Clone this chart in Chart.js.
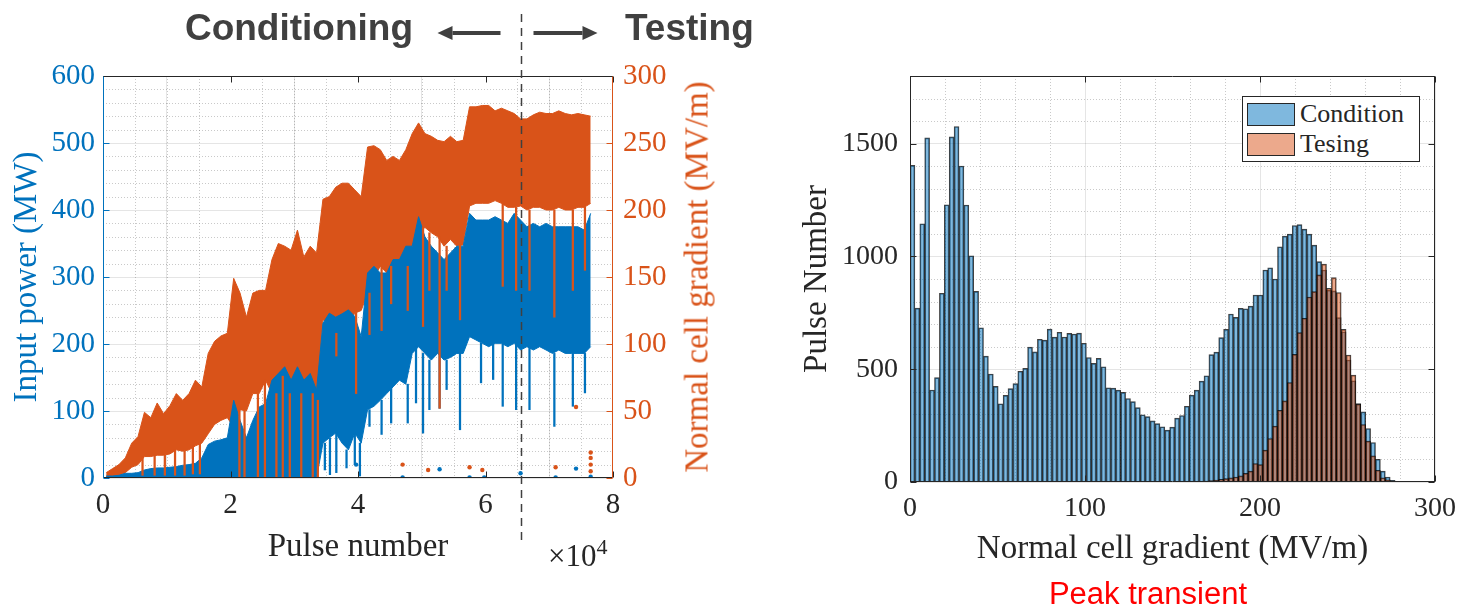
<!DOCTYPE html>
<html>
<head>
<meta charset="utf-8">
<script src="https://cdn.jsdelivr.net/npm/chart.js@4.4.1/dist/chart.umd.min.js"></script>
<style>
    html, body { margin: 0; padding: 0; background: #fff; }
    body { width: 1466px; height: 608px; position: relative; overflow: hidden; font-family: 'Liberation Serif', 'Times New Roman', serif; color: #262626; }
    .box { position: absolute; top: 0; height: 608px; }
    #leftBox { left: 0; width: 760px; }
    #rightBox { left: 760px; width: 706px; }
    .phase { position: absolute; top: 9px; font: bold 37px 'Liberation Sans', Arial, sans-serif; line-height: 37px; color: #404040; white-space: nowrap; }
    #condText { right: 1053px; }
    #testText { left: 625px; }
    #y2Title { position: absolute; left: 697px; top: 277px; transform: translate(-50%, -50%) rotate(-90deg); font-size: 33px; line-height: 33px; color: rgb(217, 83, 25); white-space: nowrap; }
    #expo { position: absolute; left: 548px; top: 540px; font-size: 31px; line-height: 31px; white-space: nowrap; }
    #expo span { font-size: 22px; position: relative; top: -12px; }
    #peakText { position: absolute; left: 1148px; top: 578px; transform: translateX(-50%); font: 31px 'Liberation Sans', Arial, sans-serif; line-height: 31px; color: #ff0000; white-space: nowrap; }
    #histLegend { position: absolute; left: 1242px; top: 96px; width: 172px; padding: 2px 0 2px 4px; border: 1px solid #262626; background: #fff; }
    #histLegend .row { display: flex; align-items: center; height: 30px; font-size: 26px; }
    #histLegend .sw { width: 48px; height: 23px; border: 1px solid #262626; margin-right: 5px; box-sizing: border-box; }
</style>
</head>
<body>
<div class="box" id="leftBox"><canvas id="powerChart" width="760" height="608"></canvas></div>
<div class="box" id="rightBox"><canvas id="histChart" width="706" height="608"></canvas></div>
<div class="phase" id="condText">Conditioning</div>
<div class="phase" id="testText">Testing</div>
<div id="y2Title">Normal cell gradient (MV/m)</div>
<div id="expo">×10<span>4</span></div>
<div id="peakText">Peak transient</div>
<div id="histLegend"></div>

<script>
// ---- left panel: pulse history, envelope of the scatter per 1000 pulses ----
const PULSE_BIN = 1000;
const TEST_START = 65500;
const PULSE_TICKS = [0, 20000, 40000, 60000, 80000];
const POWER_TICKS = [0, 100, 200, 300, 400, 500, 600];
const GRAD_TICKS = [0, 50, 100, 150, 200, 250, 300];

// gradient (right axis, MV/m), upper / lower edge of the orange cloud
const ORANGE_HI = [4, 7, 10, 15, 26, 31, 49, 45, 56, 48,
    54, 63, 58, 63, 73, 68, 93, 102, 106, 108,
    149, 138, 120, 138, 140, 140, 163, 175, 173, 170,
    185, 165, 173, 168, 208, 210, 217, 220, 220, 215,
    210, 247, 248, 245, 237, 240, 237, 245, 257, 265,
    257, 255, 252, 251, 255, 251, 252, 277, 277, 278,
    278, 274, 276, 274, 272, 268, 268, 271, 273, 272,
    272, 274, 272, 271, 272, 271, 270];
const ORANGE_LO = [0, 1, 2, 4, 8, 10, 16, 16, 17, 17,
    18, 21, 20, 21, 24, 26, 33, 40, 43, 45,
    38, 51, 50, 63, 63, 73, 63, 63, 76, 63,
    76, 63, 63, 58, 118, 116, 108, 112, 115, 123,
    125, 138, 150, 158, 153, 158, 163, 158, 173, 183,
    187, 183, 180, 173, 178, 173, 174, 203, 205, 205,
    205, 207, 205, 202, 202, 203, 200, 202, 202, 200,
    200, 202, 200, 200, 202, 202, 205];

// input power (left axis, MW), upper / lower edge of the blue cloud
const BLUE_HI = [3, 3, 4, 7, 7, 8, 12, 14, 15, 15,
    16, 17, 19, 20, 22, 30, 50, 55, 57, 60,
    116, 86, 60, 86, 106, 111, 146, 156, 166, 146,
    166, 146, 156, 131, 231, 246, 240, 245, 251, 241,
    211, 306, 316, 306, 306, 326, 326, 346, 346, 390,
    360, 346, 336, 326, 336, 346, 346, 395, 385, 385,
    385, 390, 385, 380, 395, 385, 375, 380, 375, 380,
    375, 375, 375, 375, 375, 370, 395];
const BLUE_LO = [0, 0, 0, 0, 0, 0, 0, 0, 0, 0,
    0, 0, 0, 0, 0, 0, 0, 0, 0, 0,
    0, 0, 0, 0, 0, 0, 0, 0, 0, 0,
    0, 0, 0, 0, 52, 60, 67, 52, 42, 67,
    52, 102, 107, 116, 126, 136, 146, 140, 186, 196,
    186, 176, 186, 176, 180, 186, 186, 211, 206, 201,
    196, 201, 201, 196, 201, 191, 196, 191, 196, 191,
    186, 191, 186, 186, 186, 186, 196];

// downward streaks below each cloud
const ORANGE_SPIKE_PULSE = [6200, 8100, 9700, 11300, 12800, 14100, 15200,
    21400, 22200, 24300, 25400, 27200, 28200, 29300, 31100, 32900, 33700,
    36600, 39700, 41800, 43700, 45200, 47800, 50200, 51200, 52800, 53900,
    56000, 62700, 64800, 66900, 70800, 73700, 75600];
const ORANGE_SPIKE_LOW = [2, 2, 2, 2, 2, 3, 3,
    1, 1, 1, 1, 1, 1, 1, 1, 1, 1,
    91, 63, 107, 110, 130, 125, 113, 140, 52, 140,
    118, 143, 140, 140, 120, 140, 155];
const BLUE_SPIKE_PULSE = [34800, 35600, 36600, 38200, 39500, 40300, 41800, 43700,
    45200, 47800, 49100, 50200, 51200, 52800, 53900, 56000,
    59300, 61200, 62700, 64800, 66900, 70800, 73700, 75600];
const BLUE_SPIKE_LOW = [12, 5, 8, 15, 20, 3, 77, 65,
    82, 82, 112, 67, 102, 104, 132, 72,
    142, 147, 107, 102, 102, 77, 107, 127];

// isolated points near zero
const ORANGE_DOT_PULSE = [47000, 51000, 57500, 59500, 71000, 74200, 76500, 76500, 76500, 76500];
const ORANGE_DOT_VAL = [10, 6, 8, 6, 8, 53, 5, 10, 15, 19];
const BLUE_DOT_PULSE = [39700, 52800, 74200, 65500, 47000, 57500, 59800, 71000, 76500];
const BLUE_DOT_VAL = [20, 13, 14, 7, 1, 1, 1, 1, 2];

// ---- right panel: histogram of peak gradient, 100 bins ----
const BIN_WIDTH = 2.8;
const GRADIENT_TICKS = [0, 100, 200, 300];
const COUNT_TICKS = [0, 500, 1000, 1500];
const CONDITION = [1404, 771, 1145, 1526, 408, 463, 837, 1229, 1530, 1576,
    1401, 1228, 1003, 845, 684, 558, 479, 424, 347, 384,
    414, 436, 491, 504, 598, 577, 633, 629, 678, 642,
    664, 643, 659, 656, 660, 615, 552, 526, 548, 511,
    418, 416, 407, 397, 370, 356, 330, 298, 290, 271,
    259, 245, 230, 243, 283, 295, 336, 385, 407, 447,
    471, 565, 576, 640, 677, 745, 730, 770, 768, 780,
    829, 829, 940, 950, 900, 1043, 1090, 1099, 1137, 1141,
    1121, 1099, 1050, 977, 940, 850, 847, 729, 666, 541,
    449, 348, 311, 237, 175, 101, 48, 22, 7, 2];
const TESTING = [0, 0, 0, 0, 0, 0, 0, 0, 0, 0,
    0, 0, 0, 0, 0, 0, 0, 0, 0, 0,
    0, 0, 0, 0, 0, 0, 0, 0, 0, 0,
    0, 0, 0, 0, 0, 0, 0, 0, 0, 0,
    0, 0, 0, 0, 0, 0, 0, 0, 0, 0,
    0, 0, 0, 0, 0, 1, 1, 2, 2, 3,
    4, 6, 8, 12, 15, 18, 22, 27, 38, 48,
    82, 77, 141, 193, 248, 318, 360, 441, 566, 662,
    726, 820, 844, 918, 966, 859, 906, 840, 677, 563,
    474, 345, 255, 181, 116, 52, 19, 10, 3, 1];

const BLUE = 'rgb(0, 114, 189)';
const ORANGE = 'rgb(217, 83, 25)';
const DARK = '#262626';
const SERIF = "'Liberation Serif', 'Times New Roman', serif";
const MAJOR_GRID = 'rgba(38, 38, 38, 0.12)';
const MINOR_GRID = 'rgba(38, 38, 38, 0.25)';

// MATLAB style box: dotted minor grid, frame and inward tick marks
const matlabAxes = {
    id: 'matlabAxes',
    beforeDatasetsDraw(chart, args, opts) {
        const ctx = chart.ctx;
        const area = chart.chartArea;
        ctx.save();
        ctx.strokeStyle = MINOR_GRID;
        ctx.lineWidth = 1;
        ctx.setLineDash([1, 2]);
        opts.minor.forEach(function(m) {
            const scale = chart.scales[m.axis];
            const majors = scale.ticks.map(t => t.value);
            for (let v = scale.min + m.step; v < scale.max; v += m.step) {
                if (majors.some(t => Math.abs(t - v) < m.step / 100)) continue;
                const p = Math.round(scale.getPixelForValue(v)) + 0.5;
                ctx.beginPath();
                if (scale.isHorizontal()) {
                    ctx.moveTo(p, area.top);
                    ctx.lineTo(p, area.bottom);
                } else {
                    ctx.moveTo(area.left, p);
                    ctx.lineTo(area.right, p);
                }
                ctx.stroke();
            }
        });
        ctx.restore();
    },
    afterDatasetsDraw(chart, args, opts) {
        const ctx = chart.ctx;
        const a = chart.chartArea;
        const L = Math.round(a.left) + 0.5, R = Math.round(a.right) - 0.5;
        const T = Math.round(a.top) + 0.5, B = Math.round(a.bottom) - 0.5;
        const len = 6;
        ctx.save();
        ctx.lineWidth = 1;
        function line(color, x1, y1, x2, y2) {
            ctx.strokeStyle = color;
            ctx.beginPath();
            ctx.moveTo(x1, y1);
            ctx.lineTo(x2, y2);
            ctx.stroke();
        }
        opts.ticks.forEach(function(t) {
            const scale = chart.scales[t.axis];
            scale.ticks.forEach(function(tk) {
                const p = Math.round(scale.getPixelForValue(tk.value)) + 0.5;
                if (scale.isHorizontal()) {
                    line(t.color, p, B, p, B - len);
                    line(t.color, p, T, p, T + len);
                } else if (t.side === 'left') {
                    line(t.color, L, p, L + len, p);
                } else {
                    line(t.color, R, p, R - len, p);
                }
            });
        });
        line(opts.frame.top, L - 0.5, T, R + 0.5, T);
        line(opts.frame.bottom, L - 0.5, B, R + 0.5, B);
        line(opts.frame.left, L, T, L, B + 0.5);
        line(opts.frame.right, R, T, R, B + 0.5);
        ctx.restore();
    }
};

// dashed divider between conditioning and testing, with the two arrows
const phaseMarker = {
    id: 'phaseMarker',
    afterDraw(chart, args, opts) {
        const ctx = chart.ctx;
        const x = Math.round(chart.scales.x.getPixelForValue(opts.value)) + 0.5;
        ctx.save();
        ctx.strokeStyle = opts.color;
        ctx.lineWidth = 1.5;
        ctx.setLineDash([8, 6]);
        ctx.beginPath();
        ctx.moveTo(x, opts.top);
        ctx.lineTo(x, opts.bottom);
        ctx.stroke();
        ctx.setLineDash([]);
        drawArrow(ctx, x - 21, x - 84, opts.arrowY, opts.color);
        drawArrow(ctx, x + 12, x + 76, opts.arrowY, opts.color);
        ctx.restore();
    }
};

function drawArrow(ctx, from, to, y, color) {
    const dir = Math.sign(to - from);
    const head = 15;
    ctx.strokeStyle = color;
    ctx.fillStyle = color;
    ctx.lineWidth = 4;
    ctx.beginPath();
    ctx.moveTo(from, y);
    ctx.lineTo(to - dir * head, y);
    ctx.stroke();
    ctx.beginPath();
    ctx.moveTo(to, y);
    ctx.lineTo(to - dir * head, y - 7);
    ctx.lineTo(to - dir * head, y + 7);
    ctx.closePath();
    ctx.fill();
}

function fixedTicks(values) {
    return function(scale) {
        scale.ticks = values.map(v => ({ value: v }));
    };
}

document.addEventListener('DOMContentLoaded', function() {
    Chart.defaults.font.family = SERIF;
    Chart.defaults.color = DARK;

    initPowerChart();
    initHistChart();

    function binPoints(values) {
        return values.map((v, i) => ({ x: (i + 0.5) * PULSE_BIN, y: v }));
    }

    function spikeBars(pulses, lows, floor) {
        return pulses.map((p, i) => {
            const k = Math.min(Math.floor(p / PULSE_BIN), floor.length - 1);
            return { x: p, y: [lows[i], Math.max(lows[i] + 1, floor[k])] };
        });
    }

    function dots(pulses, vals) {
        return pulses.map((p, i) => ({ x: p, y: vals[i] }));
    }

    function initPowerChart() {
        const ctx = document.getElementById('powerChart').getContext('2d');
        const band = { type: 'line', pointRadius: 0, borderWidth: 1, tension: 0 };

        new Chart(ctx, {
            type: 'line',
            data: {
                datasets: [
                    Object.assign({}, band, { label: 'grad lo', yAxisID: 'y2', data: binPoints(ORANGE_LO), borderColor: ORANGE, fill: false, order: 6 }),
                    Object.assign({}, band, { label: 'grad hi', yAxisID: 'y2', data: binPoints(ORANGE_HI), borderColor: ORANGE, backgroundColor: ORANGE, fill: '-1', order: 6 }),
                    Object.assign({}, band, { label: 'power lo', yAxisID: 'y', data: binPoints(BLUE_LO), borderColor: BLUE, fill: false, order: 4 }),
                    Object.assign({}, band, { label: 'power hi', yAxisID: 'y', data: binPoints(BLUE_HI), borderColor: BLUE, backgroundColor: BLUE, fill: '-1', order: 4 }),
                    {
                        type: 'bar', label: 'power drops', yAxisID: 'y',
                        data: spikeBars(BLUE_SPIKE_PULSE, BLUE_SPIKE_LOW, BLUE_LO),
                        backgroundColor: BLUE, barThickness: 1.6, grouped: false, order: 3
                    },
                    {
                        type: 'bar', label: 'grad drops', yAxisID: 'y2',
                        data: spikeBars(ORANGE_SPIKE_PULSE, ORANGE_SPIKE_LOW, ORANGE_LO),
                        backgroundColor: ORANGE, barThickness: 1.6, grouped: false, order: 2
                    },
                    {
                        type: 'scatter', label: 'power dots', yAxisID: 'y', data: dots(BLUE_DOT_PULSE, BLUE_DOT_VAL),
                        pointRadius: 2.2, pointBorderWidth: 0, backgroundColor: BLUE, order: 1
                    },
                    {
                        type: 'scatter', label: 'grad dots', yAxisID: 'y2', data: dots(ORANGE_DOT_PULSE, ORANGE_DOT_VAL),
                        pointRadius: 2.2, pointBorderWidth: 0, backgroundColor: ORANGE, order: 0
                    }
                ]
            },
            options: {
                responsive: false,
                animation: false,
                devicePixelRatio: 1,
                layout: { padding: { top: 76, left: 0, right: 0, bottom: 0 } },
                plugins: {
                    legend: { display: false },
                    tooltip: { enabled: false },
                    matlabAxes: {
                        minor: [{ axis: 'x', step: 5000 }, { axis: 'y', step: 20 }],
                        ticks: [
                            { axis: 'x', color: DARK },
                            { axis: 'y', side: 'left', color: BLUE },
                            { axis: 'y2', side: 'right', color: ORANGE }
                        ],
                        frame: { top: DARK, bottom: DARK, left: BLUE, right: ORANGE }
                    },
                    phaseMarker: { value: TEST_START, top: 14, bottom: 540, arrowY: 33, color: '#404040' }
                },
                scales: {
                    x: {
                        type: 'linear', min: 0, max: 80000, offset: false,
                        afterBuildTicks: fixedTicks(PULSE_TICKS),
                        ticks: { callback: v => String(v / 1e4), color: DARK, font: { family: SERIF, size: 29 }, padding: 10, maxRotation: 0, autoSkip: false },
                        grid: { color: MAJOR_GRID, drawTicks: false },
                        border: { display: false },
                        title: { display: true, text: 'Pulse number', color: DARK, font: { family: SERIF, size: 33 }, padding: { top: 0, bottom: 41 } },
                        afterFit: s => { s.height = 130; }
                    },
                    y: {
                        type: 'linear', position: 'left', min: 0, max: 600,
                        afterBuildTicks: fixedTicks(POWER_TICKS),
                        ticks: { callback: v => String(v), color: BLUE, font: { family: SERIF, size: 29 }, padding: 8, autoSkip: false },
                        grid: { color: MAJOR_GRID, drawTicks: false },
                        border: { display: false },
                        title: { display: true, text: 'Input power (MW)', color: BLUE, font: { family: SERIF, size: 33 }, padding: { top: 8, bottom: 0 } },
                        afterFit: s => { s.width = 103; }
                    },
                    y2: {
                        type: 'linear', position: 'right', min: 0, max: 300,
                        afterBuildTicks: fixedTicks(GRAD_TICKS),
                        ticks: { callback: v => String(v), color: ORANGE, font: { family: SERIF, size: 29 }, padding: 10, autoSkip: false },
                        grid: { drawOnChartArea: false, drawTicks: false },
                        border: { display: false },
                        afterFit: s => { s.width = 147; }
                    }
                }
            },
            plugins: [matlabAxes, phaseMarker]
        });
    }

    function initHistChart() {
        const ctx = document.getElementById('histChart').getContext('2d');
        const toBars = values => values.map((v, i) => ({ x: (i + 0.5) * BIN_WIDTH, y: v }));
        const barStyle = {
            grouped: false, barPercentage: 1, categoryPercentage: 1,
            borderWidth: 1, borderSkipped: 'start', borderColor: 'rgba(0, 0, 0, 0.75)'
        };

        const chart = new Chart(ctx, {
            type: 'bar',
            data: {
                datasets: [
                    Object.assign({ label: 'Condition', data: toBars(CONDITION), backgroundColor: 'rgba(0, 114, 189, 0.5)', order: 1 }, barStyle),
                    Object.assign({ label: 'Tesing', data: toBars(TESTING), backgroundColor: 'rgba(217, 83, 25, 0.5)', order: 0 }, barStyle)
                ]
            },
            options: {
                responsive: false,
                animation: false,
                devicePixelRatio: 1,
                layout: { padding: { top: 76, left: 0, right: 30, bottom: 0 } },
                plugins: {
                    legend: { display: false },
                    tooltip: { enabled: false },
                    matlabAxes: {
                        minor: [{ axis: 'x', step: 20 }, { axis: 'y', step: 100 }],
                        ticks: [
                            { axis: 'x', color: DARK },
                            { axis: 'y', side: 'left', color: DARK },
                            { axis: 'y', side: 'right', color: DARK }
                        ],
                        frame: { top: DARK, bottom: DARK, left: DARK, right: DARK }
                    }
                },
                scales: {
                    x: {
                        type: 'linear', min: 0, max: 300, offset: false,
                        afterBuildTicks: fixedTicks(GRADIENT_TICKS),
                        ticks: { callback: v => String(v), color: DARK, font: { family: SERIF, size: 28 }, padding: 10, maxRotation: 0, autoSkip: false },
                        grid: { color: MAJOR_GRID, drawTicks: false, offset: false },
                        border: { display: false },
                        title: { display: true, text: 'Normal cell gradient (MV/m)', color: DARK, font: { family: SERIF, size: 33 }, padding: { top: 0, bottom: 39 } },
                        afterFit: s => { s.height = 126; }
                    },
                    y: {
                        type: 'linear', min: 0, max: 1800,
                        afterBuildTicks: fixedTicks(COUNT_TICKS),
                        ticks: { callback: v => String(v), color: DARK, font: { family: SERIF, size: 28 }, padding: 12, autoSkip: false },
                        grid: { color: MAJOR_GRID, drawTicks: false },
                        border: { display: false },
                        title: { display: true, text: 'Pulse Number', color: DARK, font: { family: SERIF, size: 33 }, padding: { top: 38, bottom: 0 } },
                        afterFit: s => { s.width = 150; }
                    }
                }
            },
            plugins: [matlabAxes]
        });

        buildLegend(chart);
    }

    function buildLegend(chart) {
        const box = document.getElementById('histLegend');
        chart.data.datasets.forEach(function(ds) {
            const row = document.createElement('div');
            row.className = 'row';
            const sw = document.createElement('div');
            sw.className = 'sw';
            sw.style.background = ds.backgroundColor;
            const txt = document.createElement('span');
            txt.textContent = ds.label;
            row.appendChild(sw);
            row.appendChild(txt);
            box.appendChild(row);
        });
    }
});
</script>
</body>
</html>
